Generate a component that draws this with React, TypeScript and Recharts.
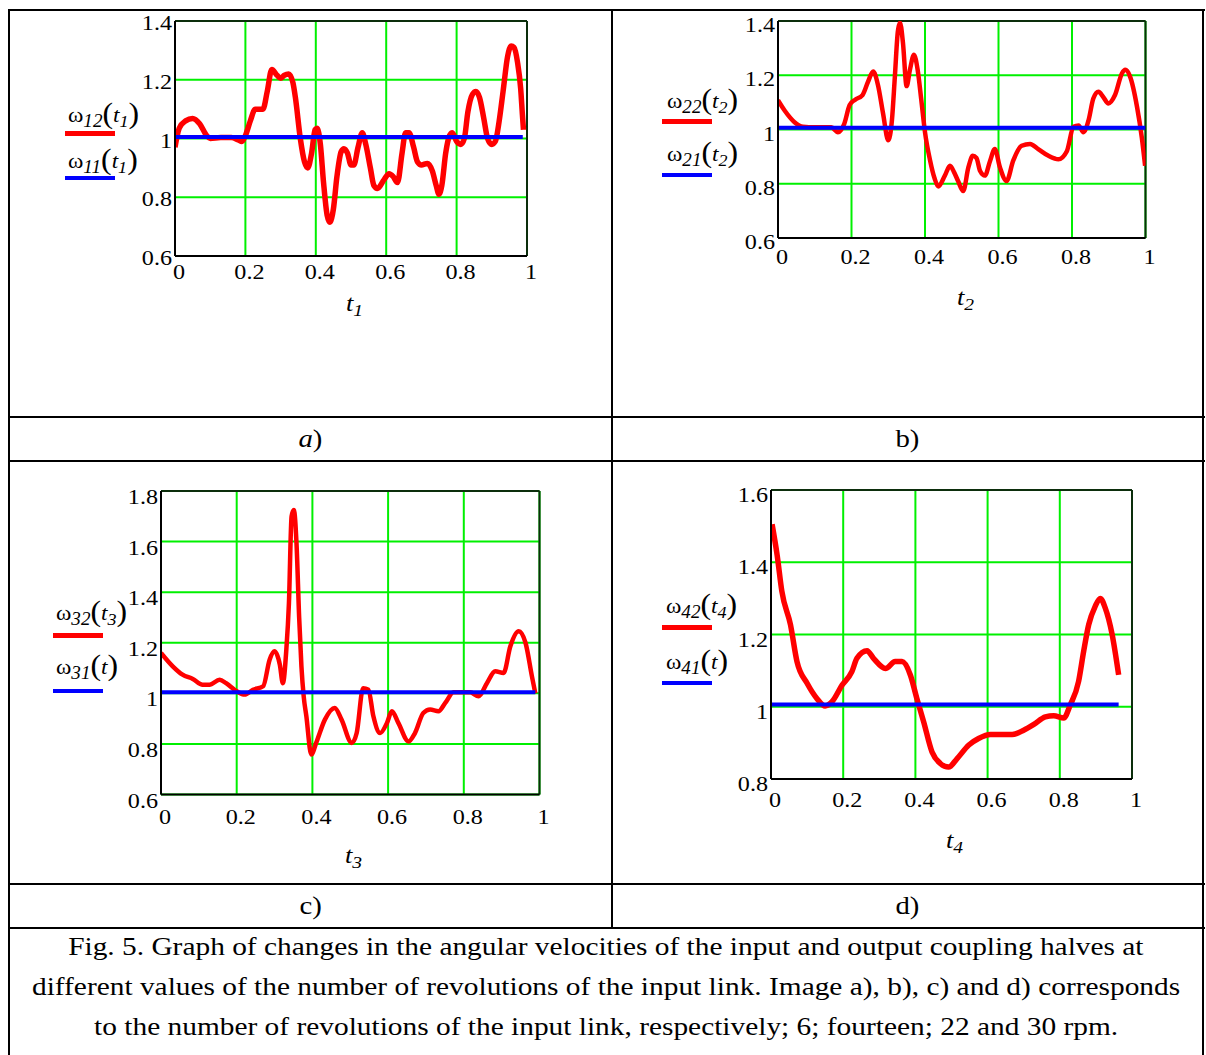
import React from 'react';
import { LineChart, Line, XAxis, YAxis, CartesianGrid, ReferenceLine } from 'recharts';

const SERIF = '"Liberation Serif", "Times New Roman", serif';
// the source figure is a little stretched sideways, text included
const STRETCH = 1.15;

// a) 6 rpm
const tA = [0, 0.012, 0.03, 0.05, 0.07, 0.09, 0.1, 0.13, 0.16, 0.18, 0.19, 0.2, 0.214, 0.228, 0.25, 0.262, 0.275, 0.29, 0.3, 0.31, 0.323, 0.335, 0.342, 0.356, 0.368, 0.377, 0.388, 0.398, 0.404, 0.413, 0.422, 0.432, 0.44, 0.45, 0.46, 0.472, 0.48, 0.49, 0.5, 0.508, 0.52, 0.532, 0.542, 0.555, 0.565, 0.575, 0.594, 0.608, 0.62, 0.632, 0.645, 0.655, 0.665, 0.678, 0.689, 0.7, 0.717, 0.731, 0.742, 0.75, 0.758, 0.769, 0.78, 0.788, 0.8, 0.812, 0.822, 0.832, 0.845, 0.855, 0.865, 0.877, 0.888, 0.9, 0.91, 0.921, 0.932, 0.945, 0.955, 0.963, 0.973, 0.982, 0.987, 0.99];
const w12 = [0.97, 1.035, 1.06, 1.068, 1.05, 1.01, 1.0, 1.003, 1.003, 0.995, 0.99, 1.01, 1.06, 1.1, 1.1, 1.16, 1.235, 1.215, 1.205, 1.215, 1.22, 1.19, 1.14, 1.0, 0.92, 0.9, 0.95, 1.03, 1.035, 0.98, 0.85, 0.74, 0.715, 0.76, 0.87, 0.955, 0.965, 0.95, 0.91, 0.91, 0.97, 1.02, 0.98, 0.9, 0.84, 0.83, 0.86, 0.88, 0.87, 0.85, 0.95, 1.02, 1.02, 0.97, 0.92, 0.91, 0.915, 0.89, 0.84, 0.81, 0.84, 0.95, 1.01, 1.02, 0.99, 0.98, 1.0, 1.09, 1.15, 1.16, 1.14, 1.07, 1.0, 0.98, 0.99, 1.06, 1.16, 1.28, 1.315, 1.31, 1.26, 1.17, 1.08, 1.03];
const tA1 = [0, 0.988];
const w11 = [1.005, 1.005];

// b) 14 rpm
const tB = [0, 0.018, 0.045, 0.068, 0.1, 0.145, 0.163, 0.18, 0.195, 0.21, 0.23, 0.245, 0.259, 0.272, 0.286, 0.3, 0.31, 0.318, 0.326, 0.332, 0.34, 0.35, 0.359, 0.37, 0.38, 0.39, 0.4, 0.414, 0.426, 0.436, 0.454, 0.468, 0.48, 0.49, 0.504, 0.518, 0.53, 0.54, 0.55, 0.563, 0.577, 0.59, 0.604, 0.622, 0.64, 0.663, 0.686, 0.708, 0.736, 0.763, 0.786, 0.804, 0.818, 0.831, 0.845, 0.858, 0.872, 0.885, 0.899, 0.917, 0.936, 0.945, 0.958, 0.977, 0.99, 0.999];
const w22 = [1.108, 1.07, 1.027, 1.01, 1.008, 1.008, 0.99, 1.02, 1.09, 1.11, 1.127, 1.176, 1.214, 1.164, 1.058, 0.96, 1.034, 1.195, 1.36, 1.394, 1.32, 1.16, 1.22, 1.276, 1.22, 1.108, 0.99, 0.885, 0.82, 0.79, 0.83, 0.866, 0.84, 0.81, 0.773, 0.86, 0.903, 0.895, 0.847, 0.83, 0.884, 0.928, 0.86, 0.81, 0.885, 0.94, 0.947, 0.928, 0.903, 0.89, 0.92, 1.01, 1.015, 0.99, 1.034, 1.114, 1.139, 1.12, 1.096, 1.127, 1.207, 1.22, 1.195, 1.083, 0.97, 0.866];
const tB1 = [0, 1];
const w21 = [1.006, 1.006];

// c) 22 rpm
const tC = [0, 0.031, 0.057, 0.084, 0.11, 0.128, 0.155, 0.172, 0.2, 0.221, 0.243, 0.27, 0.287, 0.3, 0.314, 0.322, 0.331, 0.338, 0.345, 0.351, 0.358, 0.365, 0.371, 0.377, 0.384, 0.397, 0.41, 0.433, 0.459, 0.477, 0.504, 0.517, 0.534, 0.548, 0.561, 0.579, 0.597, 0.61, 0.627, 0.654, 0.671, 0.693, 0.711, 0.733, 0.751, 0.773, 0.8, 0.817, 0.839, 0.861, 0.883, 0.905, 0.923, 0.945, 0.963, 0.98, 0.989];
const w32 = [1.16, 1.107, 1.074, 1.057, 1.034, 1.034, 1.054, 1.04, 1.008, 0.995, 1.014, 1.028, 1.133, 1.166, 1.113, 1.04, 1.17, 1.357, 1.7, 1.725, 1.593, 1.3, 1.107, 0.988, 0.91, 0.758, 0.804, 0.896, 0.942, 0.896, 0.804, 0.843, 1.02, 1.014, 0.91, 0.843, 0.883, 0.929, 0.883, 0.81, 0.843, 0.922, 0.936, 0.929, 0.962, 1.004, 1.004, 1.004, 0.988, 1.04, 1.087, 1.08, 1.186, 1.245, 1.2, 1.067, 1.0];
const tC1 = [0, 0.989];
const w31 = [1.004, 1.004];

// d) 30 rpm
const tD = [0.003, 0.017, 0.03, 0.054, 0.072, 0.1, 0.127, 0.15, 0.169, 0.197, 0.224, 0.238, 0.266, 0.284, 0.317, 0.344, 0.363, 0.386, 0.404, 0.423, 0.446, 0.469, 0.492, 0.515, 0.548, 0.575, 0.608, 0.635, 0.668, 0.7, 0.728, 0.76, 0.783, 0.811, 0.829, 0.852, 0.866, 0.88, 0.898, 0.912, 0.926, 0.945, 0.963];
const w42 = [1.505, 1.42, 1.32, 1.227, 1.125, 1.065, 1.023, 1.002, 1.014, 1.06, 1.097, 1.134, 1.155, 1.134, 1.106, 1.125, 1.125, 1.088, 1.023, 0.958, 0.875, 0.843, 0.833, 0.856, 0.894, 0.912, 0.923, 0.923, 0.923, 0.935, 0.951, 0.972, 0.975, 0.969, 1.005, 1.07, 1.153, 1.227, 1.278, 1.3, 1.273, 1.2, 1.088];
const tD1 = [0, 0.963];
const w41 = [1.006, 1.006];

const xTicks = [0, 0.2, 0.4, 0.6, 0.8, 1];

const zip = (t: number[], w: number[]) => t.map((v, i) => ({ t: v, w: w[i] }));

type PlotProps = {
  plotLeft: number;
  plotTop: number;
  plotW: number;
  plotH: number;
  yTicks: number[];
  red: { t: number; w: number }[];
  blue: { t: number; w: number }[];
  redWidth: number;
  xDy: number;
  yDy: number;
};

const TickText = ({ x, y, anchor, value }: { x: number; y: number; anchor: 'end' | 'middle'; value: number }) => (
  <text
    transform={`translate(${x} ${y}) scale(${STRETCH} 1)`}
    textAnchor={anchor}
    fontSize={21}
    fontFamily={SERIF}
    fill="#000"
  >
    {String(value)}
  </text>
);

const Plot = ({ plotLeft, plotTop, plotW, plotH, yTicks, red, blue, redWidth, xDy, yDy }: PlotProps) => {
  const yAxisW = 70;
  const yMin = yTicks[0];
  const yMax = yTicks[yTicks.length - 1];
  return (
    <div style={{ position: 'absolute', left: plotLeft - yAxisW, top: plotTop - 10 }}>
      <LineChart
        width={yAxisW + plotW + 30}
        height={10 + plotH + 40}
        margin={{ top: 10, right: 30, left: 0, bottom: 0 }}
      >
        <CartesianGrid stroke="#00f000" strokeWidth={2} />
        <XAxis
          dataKey="t"
          type="number"
          domain={[0, 1]}
          ticks={xTicks}
          height={40}
          tickSize={0}
          tickMargin={0}
          axisLine={{ stroke: '#000', strokeWidth: 2 }}
          tickLine={false}
          tick={(p: any) => <TickText x={p.x + 4} y={p.y + xDy} anchor="middle" value={p.payload.value} />}
          allowDataOverflow
        />
        <YAxis
          type="number"
          domain={[yMin, yMax]}
          ticks={yTicks}
          width={yAxisW}
          tickSize={0}
          tickMargin={0}
          axisLine={{ stroke: '#000', strokeWidth: 2 }}
          tickLine={false}
          tick={(p: any) => <TickText x={p.x - 3} y={p.y + yDy} anchor="end" value={p.payload.value} />}
          allowDataOverflow
        />
        <ReferenceLine y={yMax} stroke="#0c2e0c" strokeWidth={2} />
        <ReferenceLine x={1} stroke="#0c2e0c" strokeWidth={2} />
        <Line data={red} dataKey="w" type="monotone" stroke="#ff0000" strokeWidth={redWidth} dot={false} isAnimationActive={false} />
        <Line data={blue} dataKey="w" type="linear" stroke="#0000ff" strokeWidth={4} dot={false} isAnimationActive={false} />
      </LineChart>
    </div>
  );
};

const sub = (s: string, size = 17) => (
  <span style={{ fontSize: size, fontStyle: 'italic', position: 'relative', top: 5 }}>{s}</span>
);

const paren = (c: string) => (
  <span style={{ fontSize: 30, position: 'relative', top: 1 }}>{c}</span>
);

const Omega = ({ idx, argSub, left, top }: { idx: string; argSub?: string; left: number; top: number }) => (
  <div
    style={{
      position: 'absolute', left, top, fontFamily: SERIF, fontSize: 22, lineHeight: '22px', whiteSpace: 'nowrap',
      transform: 'scaleX(1.06)', transformOrigin: 'left',
    }}
  >
    ω{sub(idx, 18)}
    {paren('(')}
    <i>t</i>
    {argSub ? sub(argSub, 17) : null}
    {paren(')')}
  </div>
);

const Swatch = ({ left, top, color, h }: { left: number; top: number; color: string; h: number }) => (
  <div style={{ position: 'absolute', left, top, width: 50, height: h, background: color }} />
);

const AxisTitle = ({ n, left, top }: { n: string; left: number; top: number }) => (
  <div
    style={{
      position: 'absolute', left, top, fontFamily: SERIF, fontSize: 23, lineHeight: '22px',
      transform: `scaleX(${STRETCH})`, transformOrigin: 'left',
    }}
  >
    <i>t</i>
    {sub(n, 17)}
  </div>
);

const HLine = ({ y }: { y: number }) => (
  <div style={{ position: 'absolute', left: 8, top: y, width: 1197, height: 2, background: '#000' }} />
);

const VLine = ({ x, y0, y1 }: { x: number; y0: number; y1: number }) => (
  <div style={{ position: 'absolute', left: x, top: y0, width: 2, height: y1 - y0, background: '#000' }} />
);

const Cell = ({ left, width, top, children }: { left: number; width: number; top: number; children: React.ReactNode }) => (
  <div
    style={{
      position: 'absolute', left, top, width, height: 42, display: 'flex',
      alignItems: 'center', justifyContent: 'center', fontFamily: SERIF, fontSize: 25,
    }}
  >
    <span style={{ display: 'inline-block', transform: `scaleX(${STRETCH})` }}>{children}</span>
  </div>
);

const captionLines = [
  'Fig. 5. Graph of changes in the angular velocities of the input and output coupling halves at',
  'different values of the number of revolutions of the input link. Image a), b), c) and d) corresponds',
  'to the number of revolutions of the input link, respectively; 6; fourteen; 22 and 30 rpm.',
];

export default function App() {
  return (
    <div style={{ position: 'absolute', left: 0, top: 0, width: 1206, height: 1055, background: '#fff', overflow: 'hidden' }}>
      {/* table frame */}
      <HLine y={9} />
      <HLine y={416} />
      <HLine y={460} />
      <HLine y={883} />
      <HLine y={927} />
      <VLine x={8} y0={9} y1={1055} />
      <VLine x={1202} y0={9} y1={1055} />
      <VLine x={611} y0={9} y1={929} />

      {/* a) */}
      <Plot plotLeft={175} plotTop={20.5} plotW={352} plotH={235} yTicks={[0.6, 0.8, 1, 1.2, 1.4]}
        red={zip(tA, w12)} blue={zip(tA1, w11)} redWidth={5.5} xDy={23} yDy={9} />
      <Omega idx="12" argSub="1" left={68} top={101} />
      <Swatch left={65} top={131} color="#ff0000" h={5} />
      <Omega idx="11" argSub="1" left={68} top={147} />
      <Swatch left={65} top={176} color="#0000ff" h={4} />
      <AxisTitle n="1" left={346} top={293} />

      {/* b) */}
      <Plot plotLeft={778} plotTop={20.5} plotW={367.5} plotH={217} yTicks={[0.6, 0.8, 1, 1.2, 1.4]}
        red={zip(tB, w22)} blue={zip(tB1, w21)} redWidth={4.5} xDy={26} yDy={11} />
      <Omega idx="22" argSub="2" left={667} top={87} />
      <Swatch left={662} top={119} color="#ff0000" h={5} />
      <Omega idx="21" argSub="2" left={667} top={140} />
      <Swatch left={662} top={173} color="#0000ff" h={4} />
      <AxisTitle n="2" left={957} top={287} />

      {/* c) */}
      <Plot plotLeft={160.5} plotTop={490.5} plotW={378.5} plotH={303.5} yTicks={[0.6, 0.8, 1, 1.2, 1.4, 1.6, 1.8]}
        red={zip(tC, w32)} blue={zip(tC1, w31)} redWidth={4.5} xDy={29} yDy={13} />
      <Omega idx="32" argSub="3" left={56} top={599} />
      <Swatch left={53} top={633} color="#ff0000" h={5} />
      <Omega idx="31" left={56} top={653} />
      <Swatch left={53} top={689} color="#0000ff" h={4} />
      <AxisTitle n="3" left={345} top={845} />

      {/* d) */}
      <Plot plotLeft={770.5} plotTop={490} plotW={361} plotH={289} yTicks={[0.8, 1, 1.2, 1.4, 1.6]}
        red={zip(tD, w42)} blue={zip(tD1, w41)} redWidth={5.5} xDy={28} yDy={12} />
      <Omega idx="42" argSub="4" left={666} top={592} />
      <Swatch left={662} top={625} color="#ff0000" h={5} />
      <Omega idx="41" left={666} top={648} />
      <Swatch left={662} top={681} color="#0000ff" h={4} />
      <AxisTitle n="4" left={946} top={830} />

      {/* panel captions */}
      <Cell left={10} width={601} top={418}><i>a</i>)</Cell>
      <Cell left={613} width={589} top={418}>b)</Cell>
      <Cell left={10} width={601} top={885}>c)</Cell>
      <Cell left={613} width={589} top={885}>d)</Cell>

      {captionLines.map((line, i) => (
        <div
          key={i}
          style={{
            position: 'absolute', left: 10, width: 1192, top: 927 + i * 40, height: 40,
            lineHeight: '40px', textAlign: 'center', fontFamily: SERIF, fontSize: 26, whiteSpace: 'nowrap',
          }}
        >
          <span style={{ display: 'inline-block', transform: 'scaleX(1.13)' }}>{line}</span>
        </div>
      ))}
    </div>
  );
}
